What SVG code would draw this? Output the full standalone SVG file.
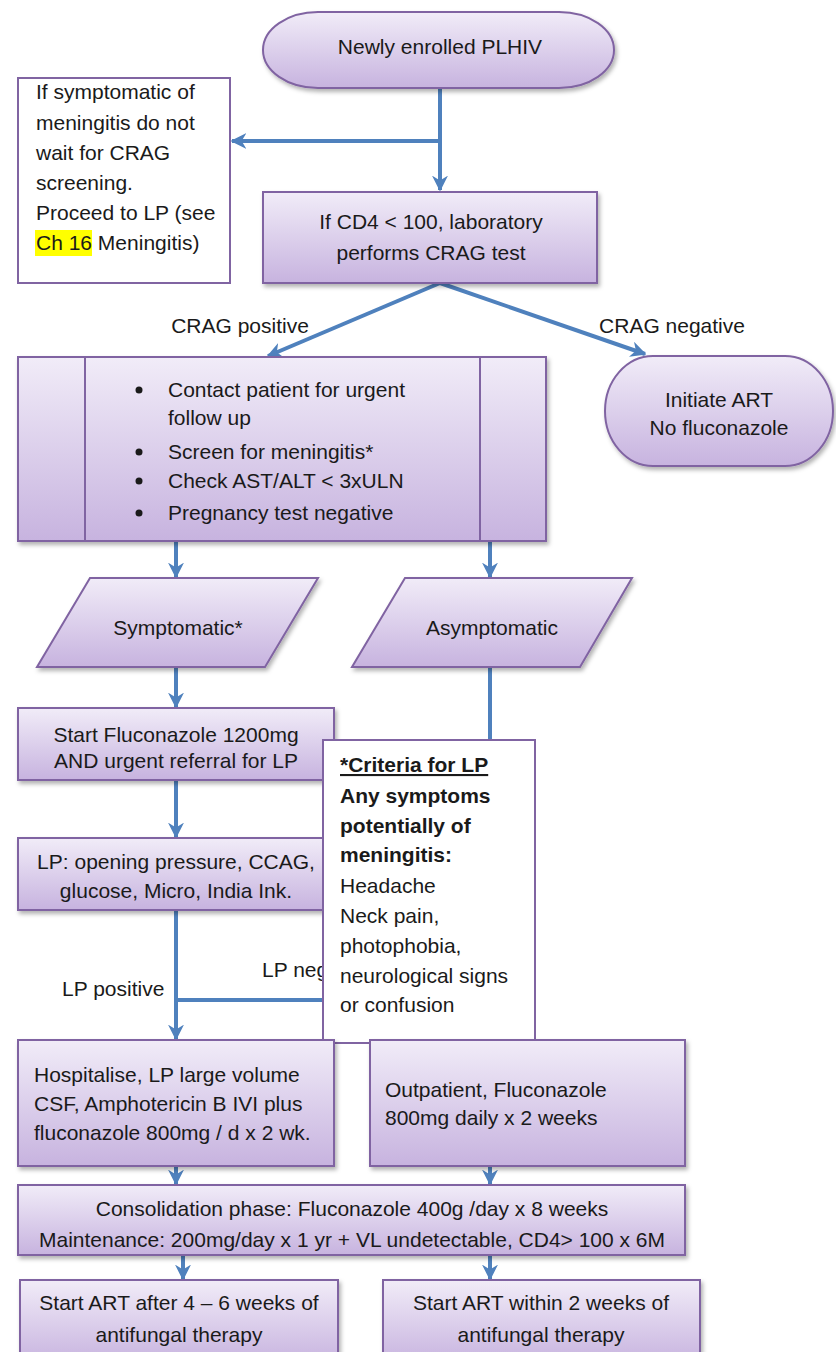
<svg xmlns="http://www.w3.org/2000/svg" width="836" height="1352" viewBox="0 0 836 1352">
<style>
text{font-family:"Liberation Sans",Arial,sans-serif;font-size:21px;fill:#1a1a1a}
.c{text-anchor:middle}
.b{font-weight:bold}
.shape{fill:url(#g);stroke:#8064a2;stroke-width:2;filter:url(#sh)}
.white{fill:#fff;stroke:#8064a2;stroke-width:2}
.conn{fill:none;stroke:#4f81bd;stroke-width:4}
.arr{marker-end:url(#ah)}
</style>
<defs>
<linearGradient id="g" x1="0" y1="0" x2="0" y2="1">
<stop offset="0" stop-color="#f1ecf8"/>
<stop offset="1" stop-color="#c7b3df"/>
</linearGradient>
<filter id="sh" x="-10%" y="-10%" width="120%" height="130%">
<feDropShadow dx="2" dy="3" stdDeviation="2" flood-color="#000" flood-opacity="0.3"/>
</filter>
<marker id="ah" viewBox="0 0 10 10" refX="9" refY="5" markerWidth="16" markerHeight="16" markerUnits="userSpaceOnUse" orient="auto">
<path d="M0,0 L10,5 L0,10 L3,5 z" fill="#4f81bd"/>
</marker>
</defs>

<g id="connectors">
<path class="conn arr" d="M440,88 V190"/>
<path class="conn arr" d="M440,141 H232"/>
<path class="conn arr" d="M440,283 L268,356"/>
<path class="conn arr" d="M440,283 L645,354"/>
<path class="conn arr" d="M176,541 V577"/>
<path class="conn arr" d="M490,541 V577"/>
<path class="conn arr" d="M176,667 V707"/>
<path class="conn arr" d="M490,667 V1039"/>
<path class="conn arr" d="M176,780 V837"/>
<path class="conn arr" d="M176,910 V1039"/>
<path class="conn" d="M176,1000 H490"/>
<path class="conn arr" d="M176,1166 V1184"/>
<path class="conn arr" d="M490,1166 V1184"/>
<path class="conn arr" d="M183,1255 V1279"/>
<path class="conn arr" d="M490,1255 V1279"/>
</g>

<g id="n-start">
<rect class="shape" x="263" y="12" width="351" height="76" rx="55" ry="38"/>
<text class="c" x="440" y="54">Newly enrolled PLHIV</text>
</g>

<g id="n-symptomatic-note">
<rect class="white" x="18" y="78" width="212" height="205"/>
<rect x="35" y="230" width="57" height="26" fill="#ffff00"/>
<text x="36" y="99">If symptomatic of</text>
<text x="36" y="130">meningitis do not</text>
<text x="36" y="160">wait for CRAG</text>
<text x="36" y="190">screening.</text>
<text x="36" y="220">Proceed to LP (see</text>
<text x="36" y="250">Ch 16 Meningitis)</text>
</g>

<g id="n-cd4">
<rect class="shape" x="263" y="192" width="334" height="91"/>
<text class="c" x="431" y="229">If CD4 &lt; 100, laboratory</text>
<text class="c" x="431" y="260">performs CRAG test</text>
</g>

<g id="l-crag">
<text class="c" x="240" y="333">CRAG positive</text>
<text class="c" x="672" y="333">CRAG negative</text>
</g>

<g id="n-contact">
<rect class="shape" x="18" y="357" width="528" height="184"/>
<line x1="85" y1="357" x2="85" y2="541" stroke="#8064a2" stroke-width="2"/>
<line x1="480" y1="357" x2="480" y2="541" stroke="#8064a2" stroke-width="2"/>
<circle cx="139" cy="390" r="3.5" fill="#1a1a1a"/>
<circle cx="139" cy="452" r="3.5" fill="#1a1a1a"/>
<circle cx="139" cy="481" r="3.5" fill="#1a1a1a"/>
<circle cx="139" cy="513" r="3.5" fill="#1a1a1a"/>
<text x="168" y="397">Contact patient for urgent</text>
<text x="168" y="425">follow up</text>
<text x="168" y="459">Screen for meningitis*</text>
<text x="168" y="488">Check AST/ALT &lt; 3xULN</text>
<text x="168" y="520">Pregnancy test negative</text>
</g>

<g id="n-initiate">
<rect class="shape" x="605" y="356" width="228" height="110" rx="48" ry="55"/>
<text class="c" x="719" y="407">Initiate ART</text>
<text class="c" x="719" y="435">No fluconazole</text>
</g>

<g id="n-symp">
<polygon class="shape" points="90,578 318,578 265,667 37,667"/>
<text class="c" x="178" y="635">Symptomatic*</text>
</g>

<g id="n-asymp">
<polygon class="shape" points="405,578 632,578 580,667 352,667"/>
<text class="c" x="492" y="635">Asymptomatic</text>
</g>

<g id="n-flu1200">
<rect class="shape" x="18" y="708" width="316" height="72"/>
<text class="c" x="176" y="742">Start Fluconazole 1200mg</text>
<text class="c" x="176" y="768">AND urgent referral for LP</text>
</g>

<g id="n-lp">
<rect class="shape" x="18" y="838" width="316" height="72"/>
<text class="c" x="176" y="869">LP: opening pressure, CCAG,</text>
<text class="c" x="176" y="898">glucose, Micro, India Ink.</text>
</g>

<g id="l-lp">
<text x="62" y="996">LP positive</text>
<text x="262" y="977">LP neg</text>
</g>

<g id="n-criteria">
<rect class="white" x="323" y="740" width="212" height="303"/>
<text class="b" x="340" y="772" text-decoration="underline">*Criteria for LP</text>
<text class="b" x="340" y="803">Any symptoms</text>
<text class="b" x="340" y="833">potentially of</text>
<text class="b" x="340" y="862">meningitis:</text>
<text x="340" y="893">Headache</text>
<text x="340" y="923">Neck pain,</text>
<text x="340" y="953">photophobia,</text>
<text x="340" y="983">neurological signs</text>
<text x="340" y="1012">or confusion</text>
</g>

<g id="n-hosp">
<rect class="shape" x="18" y="1040" width="316" height="126"/>
<text x="34" y="1082">Hospitalise, LP large volume</text>
<text x="34" y="1111">CSF, Amphotericin B IVI plus</text>
<text x="34" y="1140">fluconazole 800mg / d x 2 wk.</text>
</g>

<g id="n-outpatient">
<rect class="shape" x="370" y="1040" width="315" height="126"/>
<text x="385" y="1097">Outpatient, Fluconazole</text>
<text x="385" y="1125">800mg daily x 2 weeks</text>
</g>

<g id="n-consolidation">
<rect class="shape" x="18" y="1185" width="667" height="70"/>
<text class="c" x="352" y="1216">Consolidation phase: Fluconazole 400g /day x 8 weeks</text>
<text class="c" x="352" y="1247">Maintenance: 200mg/day x 1 yr + VL undetectable, CD4&gt; 100 x 6M</text>
</g>

<g id="n-art-late">
<rect class="shape" x="20" y="1280" width="318" height="84"/>
<text class="c" x="179" y="1310">Start ART after 4 – 6 weeks of</text>
<text class="c" x="179" y="1342">antifungal therapy</text>
</g>

<g id="n-art-early">
<rect class="shape" x="383" y="1280" width="317" height="84"/>
<text class="c" x="541" y="1310">Start ART within 2 weeks of</text>
<text class="c" x="541" y="1342">antifungal therapy</text>
</g>
</svg>
